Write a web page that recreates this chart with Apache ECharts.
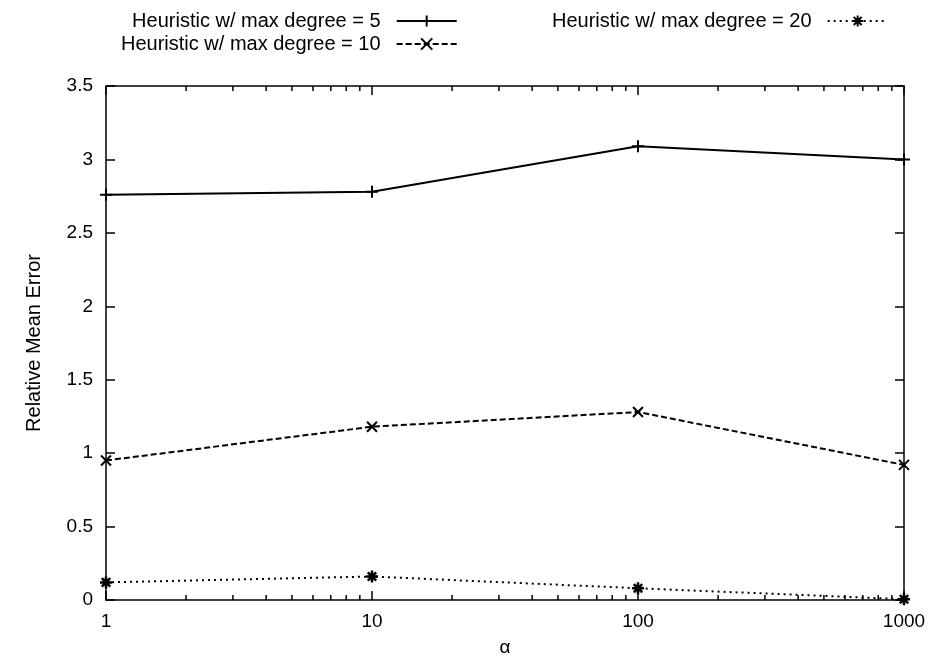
<!DOCTYPE html>
<html>
<head>
<meta charset="utf-8">
<script src="https://cdn.jsdelivr.net/npm/echarts@6/dist/echarts.min.js"></script>
<style>html,body{margin:0;padding:0;background:#fff}#c{width:939px;height:666px}</style>
</head>
<body>
<div id="c"></div>
<script>
const alphas = [1, 10, 100, 1000];
const deg5 = [2.76, 2.78, 3.09, 3.00];
const deg10 = [0.95, 1.18, 1.28, 0.92];
const deg20 = [0.12, 0.16, 0.08, 0.005];
const seriesNames = ['Heuristic w/ max degree = 5', 'Heuristic w/ max degree = 10', 'Heuristic w/ max degree = 20'];
const minorTickValues = [2,3,4,5,6,7,8,9,20,30,40,50,60,70,80,90,200,300,400,500,600,700,800,900];
const yMin = 0, yMax = 3.5, yStep = 0.5;
const xMin = 1, xMax = 1000;

const FONT = "'Liberation Sans', Arial, Helvetica, sans-serif";
const FS = 19;
const LFS = 20;
const PLUS = 'path://M5 0L5 10M0 5L10 5';
const CROSS = 'path://M0 0L10 10M10 0L0 10';
const STAR = 'path://M5 0L5 10M0 5L10 5M1.5 1.5L8.5 8.5M8.5 1.5L1.5 8.5';

function pairs(vals){ return alphas.map((a,i)=>[a, vals[i]]); }

const axisLine = {show:true, onZero:false, lineStyle:{color:'#000', width:1.5}};
const tick = {show:true, inside:true, length:9, lineStyle:{color:'#000', width:1.5}};
const legendText = {fontSize:LFS, fontFamily:FONT, color:'#000'};

const chart = echarts.init(document.getElementById('c'), null, {renderer:'canvas'});
chart.setOption({
  animation:false,
  backgroundColor:'#fff',
  textStyle:{fontFamily:FONT, color:'#000'},
  grid:{left:106, right:35, top:86, bottom:66, containLabel:false},
  legend:[
    {data:[seriesNames[0], seriesNames[1]], orient:'vertical', align:'right', left:116, top:6,
     itemWidth:60, itemHeight:14, itemGap:3, textStyle:legendText, formatter:n=>n+'  '},
    {data:[seriesNames[2]], orient:'vertical', align:'right', left:547, top:6,
     itemWidth:60, itemHeight:14, itemGap:3, textStyle:legendText, formatter:n=>n+'  '}
  ],
  xAxis:[
    {type:'log', logBase:10, min:xMin, max:xMax, name:'α', nameLocation:'middle', nameGap:38,
     nameTextStyle:{fontSize:FS, fontFamily:FONT, color:'#000'},
     axisLine:axisLine, axisTick:tick, splitLine:{show:false}, minorTick:{show:false},
     axisLabel:{fontSize:FS, fontFamily:FONT, color:'#000', margin:12, formatter:v=>String(Math.round(v))}},
    {type:'log', logBase:10, min:xMin, max:xMax, position:'top',
     axisLine:axisLine, axisTick:tick, splitLine:{show:false}, axisLabel:{show:false}}
  ],
  yAxis:[
    {type:'value', min:yMin, max:yMax, interval:yStep, name:'Relative Mean Error', nameLocation:'middle', nameGap:62,
     nameTextStyle:{fontSize:LFS, fontFamily:FONT, color:'#000'},
     axisLine:axisLine, axisTick:tick, splitLine:{show:false},
     axisLabel:{fontSize:FS, fontFamily:FONT, color:'#000', margin:13}},
    {type:'value', min:yMin, max:yMax, interval:yStep, position:'right',
     axisLine:axisLine, axisTick:tick, splitLine:{show:false}, axisLabel:{show:false}}
  ],
  series:[
    {name:seriesNames[0], type:'line', data:pairs(deg5), symbol:PLUS, symbolSize:12,
     lineStyle:{color:'#000', width:2, type:'solid'},
     itemStyle:{color:'transparent', borderColor:'#000', borderWidth:2}, z:5},
    {name:seriesNames[1], type:'line', data:pairs(deg10), symbol:CROSS, symbolSize:10,
     lineStyle:{color:'#000', width:2, type:[6,3]},
     itemStyle:{color:'transparent', borderColor:'#000', borderWidth:2}, z:5},
    {name:seriesNames[2], type:'line', data:pairs(deg20), symbol:STAR, symbolSize:12,
     lineStyle:{color:'#000', width:2, type:[2,4]},
     itemStyle:{color:'transparent', borderColor:'#000', borderWidth:2.5}, z:5},
    {type:'custom', silent:true, xAxisIndex:0, yAxisIndex:0,
     data:minorTickValues.map(v=>[v]),
     renderItem:function(params, api){
       const v = api.value(0);
       const b = api.coord([v, yMin]);
       const t = api.coord([v, yMax]);
       return {type:'group', children:[
         {type:'line', shape:{x1:b[0], y1:b[1], x2:b[0], y2:b[1]-5}, style:{stroke:'#000', lineWidth:1.5}},
         {type:'line', shape:{x1:t[0], y1:t[1], x2:t[0], y2:t[1]+5}, style:{stroke:'#000', lineWidth:1.5}}
       ]};
     }, z:3}
  ]
});
</script>
</body>
</html>
